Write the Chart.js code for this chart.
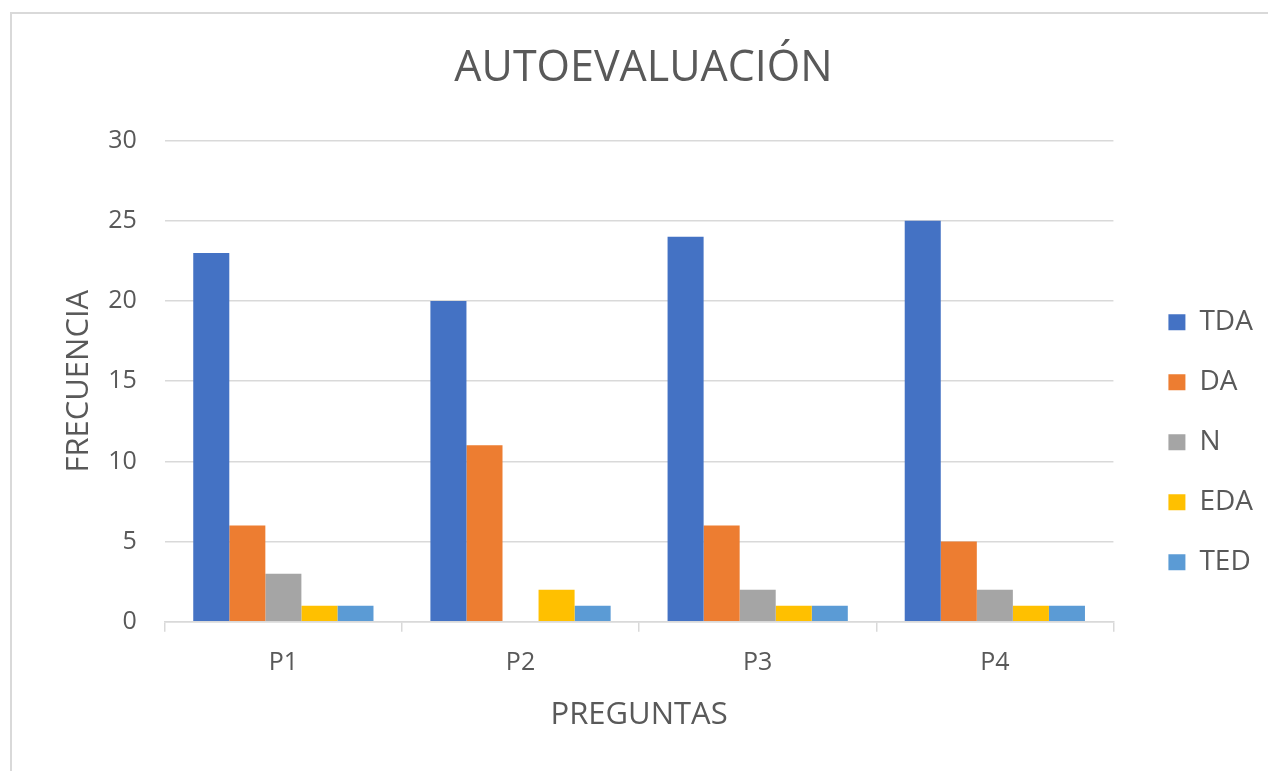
<!DOCTYPE html>
<html>
<head>
<meta charset="utf-8">
<script src="https://cdn.jsdelivr.net/npm/chart.js@4/dist/chart.umd.min.js"></script>
<style>
  body { margin: 0; background: #fff; overflow: hidden; }
  #frame {
    position: absolute; left: 10px; top: 12px;
    width: 1300px; height: 800px;
    border: 2px solid #d9d9d9; box-sizing: border-box;
  }
  #chart { display: block; }
</style>
</head>
<body>
<div id="frame"><canvas id="chart" width="1252" height="750"></canvas></div>
<script>
// chart data
const categories = ['P1', 'P2', 'P3', 'P4'];
const seriesNames = ['TDA', 'DA', 'N', 'EDA', 'TED'];
const tdaValues = [23, 20, 24, 25];
const daValues = [6, 11, 6, 5];
const nValues = [3, 0, 2, 2];
const edaValues = [1, 2, 1, 1];
const tedValues = [1, 1, 1, 1];
const yTicks = [0, 5, 10, 15, 20, 25, 30];

const seriesColors = ['#4472C4', '#ED7D31', '#A5A5A5', '#FFC000', '#5B9BD5'];
const textColor = '#595959';
const lineColor = '#d9d9d9';
const fontFamily = '"Open Sans", "Noto Sans", sans-serif';

const allValues = [tdaValues, daValues, nValues, edaValues, tedValues];
const datasets = seriesNames.map((name, i) => ({
    label: name,
    data: allValues[i],
    backgroundColor: seriesColors[i],
    borderWidth: 0,
    categoryPercentage: 0.76,
    barPercentage: 1.0
}));

new Chart(document.getElementById('chart'), {
    type: 'bar',
    data: { labels: categories, datasets: datasets },
    options: {
        responsive: false,
        animation: false,
        layout: { padding: { left: 12, right: 1, top: 0, bottom: 30 } },
        plugins: {
            title: {
                display: true,
                text: 'AUTOEVALUACIÓN',
                color: textColor,
                font: { family: fontFamily, size: 43, weight: 'normal' },
                padding: { top: 29, bottom: 46 }
            },
            legend: {
                position: 'right',
                align: 'start',
                // empty title only pushes the items down
                title: { display: true, text: ' ', font: { size: 1 }, padding: { top: 261, bottom: 0 } },
                labels: {
                    color: textColor,
                    font: { family: fontFamily, size: 28 },
                    boxWidth: 17,
                    boxHeight: 16,
                    padding: 32
                }
            },
            tooltip: { enabled: false }
        },
        scales: {
            y: {
                min: 0,
                max: 30,
                afterBuildTicks: (axis) => { axis.ticks = yTicks.map(v => ({ value: v })); },
                ticks: {
                    color: textColor,
                    font: { family: fontFamily, size: 25 },
                    padding: 28
                },
                grid: { color: lineColor, lineWidth: 1.5, drawTicks: false },
                border: { display: false },
                title: {
                    display: true,
                    text: 'FRECUENCIA',
                    color: textColor,
                    font: { family: fontFamily, size: 31 },
                    padding: { top: 37, bottom: -18 }
                }
            },
            // spacer between the plot and the legend
            gap: {
                type: 'linear',
                position: 'right',
                grid: { display: false },
                ticks: { display: false },
                border: { display: false },
                afterFit: (axis) => { axis.width = 23; }
            },
            x: {
                ticks: {
                    color: textColor,
                    font: { family: fontFamily, size: 25 },
                    padding: 16
                },
                grid: {
                    display: true,
                    offset: true,
                    drawOnChartArea: false,
                    drawTicks: true,
                    tickLength: 10,
                    color: lineColor,
                    lineWidth: 1.5
                },
                border: { display: true, color: lineColor, width: 1.5 },
                title: {
                    display: true,
                    text: 'PREGUNTAS',
                    color: textColor,
                    font: { family: fontFamily, size: 31 },
                    padding: { top: 3, bottom: 0 }
                }
            }
        }
    }
});
</script>
</body>
</html>
